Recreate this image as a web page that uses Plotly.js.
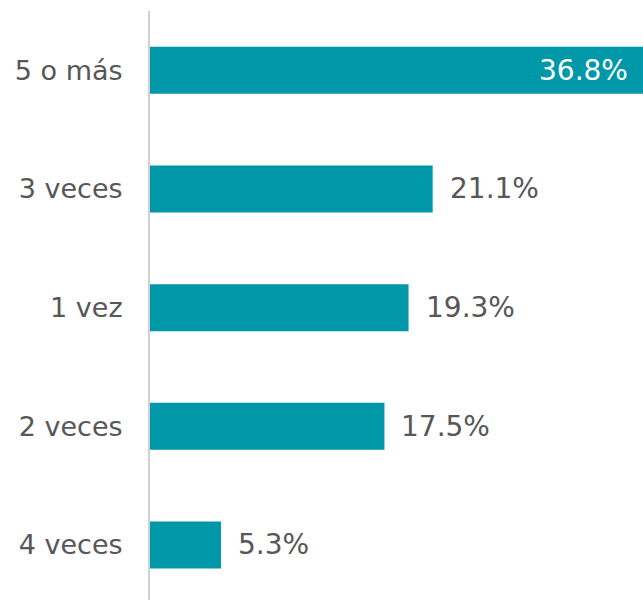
<!DOCTYPE html>
<html><head><meta charset="utf-8">
<script src="https://cdn.plot.ly/plotly-3.0.1.min.js"></script>
<style>html,body{margin:0;padding:0;background:#fff}#chart{width:643px;height:600px}</style>
</head><body><div id="chart"></div>
<script>
const categories = ["5 o más", "3 veces", "1 vez", "2 veces", "4 veces"];
const values = [36.8, 21.1, 19.3, 17.5, 5.3];
const labels = ["36.8%", "21.1%", "19.3%", "17.5%", "5.3%"];

const FONT = "DejaVu Sans, Verdana, sans-serif";
const maxV = Math.max(...values);
const annotations = values.map((v, i) => {
  const inside = v === maxV;
  return {
    x: v, y: categories[i], xref: 'x', yref: 'y',
    text: labels[i], showarrow: false,
    xanchor: inside ? 'right' : 'left',
    xshift: inside ? -13 : 15,
    font: {family: FONT, size: 28, color: inside ? '#ffffff' : '#575757'}
  };
});

Plotly.newPlot('chart', [{
  type: 'bar', orientation: 'h',
  x: values, y: categories,
  marker: {color: '#0098A8'},
  hoverinfo: 'none'
}], {
  width: 643, height: 600,
  margin: {l: 150, r: 0, t: 11, b: 0},
  paper_bgcolor: '#fff', plot_bgcolor: '#fff',
  bargap: 0.604,
  showlegend: false,
  xaxis: {range: [0, maxV], visible: false, fixedrange: true},
  yaxis: {
    type: 'category', range: [4.464, -0.5],
    showline: true, linecolor: '#d0d0d0', linewidth: 2,
    showgrid: false, zeroline: false, ticks: '',
    ticklabelstandoff: 20,
    tickfont: {family: FONT, size: 27, color: '#575757'}
  },
  annotations: annotations
}, {displayModeBar: false, staticPlot: true});
</script></body></html>
